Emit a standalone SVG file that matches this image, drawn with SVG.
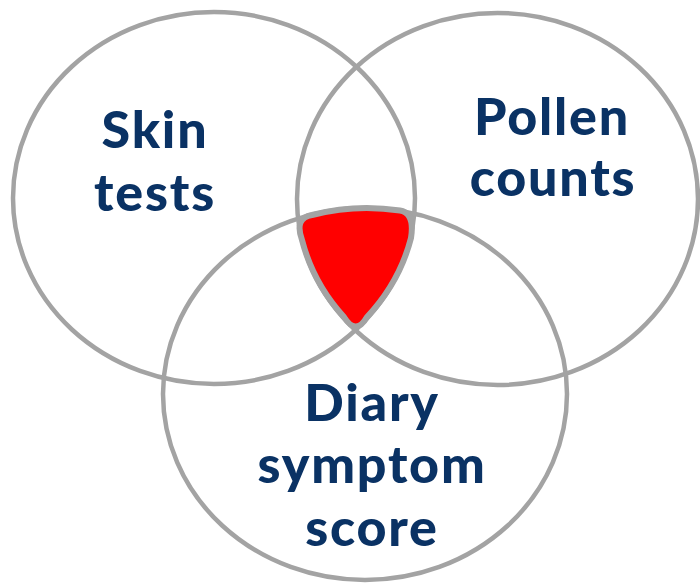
<svg xmlns="http://www.w3.org/2000/svg" width="700" height="584" viewBox="0 0 700 584">
<style>
.c{fill:none;stroke:#a3a3a3;stroke-width:4.5}
.t{font-family:Lato,"Open Sans",sans-serif;font-weight:900;font-size:52px;letter-spacing:1.8px;fill:#0a3264;text-anchor:middle}
</style>
<rect width="700" height="584" fill="#fff"/>
<g id="circles">
<g id="skin"><ellipse class="c" cx="214" cy="198" rx="201" ry="186"/></g>
<g id="pollen"><ellipse class="c" cx="497.5" cy="199" rx="200.5" ry="186"/></g>
<g id="diary"><ellipse class="c" cx="365" cy="394" rx="202" ry="186"/></g>
</g>
<g id="overlap">
<path d="M 312 215 A 202 186 0 0 1 400 210.5 Q 415 213 411 238 A 201 186 0 0 1 367 317 Q 356 336 344 317 A 200.5 186 0 0 1 302 240 Q 294 218 312 215 Z" fill="#ff0000" stroke="#a3a3a3" stroke-width="6" stroke-linejoin="round"/>
</g>
<g id="labels">
<text class="t" x="155" y="148">Skin</text>
<text class="t" x="155" y="211">tests</text>
<text class="t" x="552" y="135">Pollen</text>
<text class="t" x="553" y="196">counts</text>
<text class="t" x="372" y="421">Diary</text>
<text class="t" x="372" y="483">symptom</text>
<text class="t" x="372" y="546">score</text>
</g>
</svg>
